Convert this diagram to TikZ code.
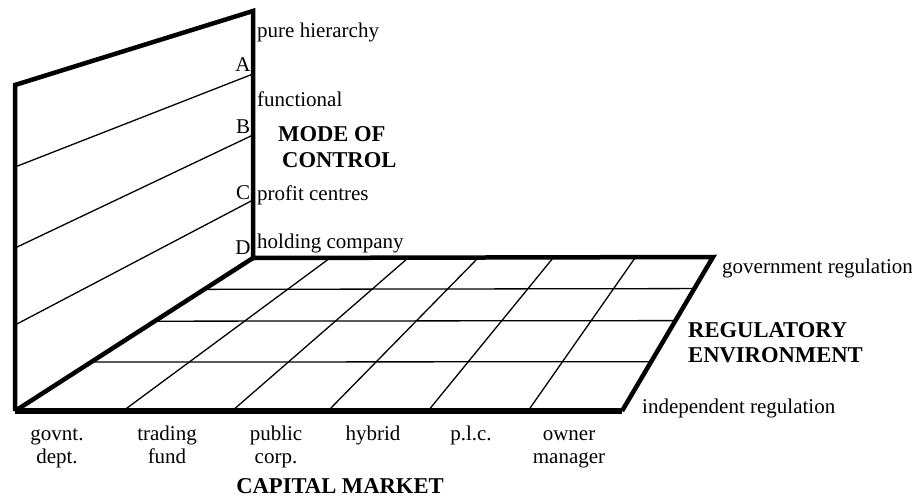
\documentclass[tikz,border=0pt]{standalone}
\usepackage{fontspec}
\setmainfont{Liberation Serif}
\usetikzlibrary{calc}
\begin{document}
\begin{tikzpicture}[x=1pt,y=-1pt,
  edge/.style={line width=4.5pt, line join=miter, line cap=butt},
  frontedge/.style={line width=6.5pt, line cap=butt},
  rule/.style={line width=1.3pt},
  lbl/.style={inner sep=0pt, font=\fontsize{21}{23}\selectfont},
  head/.style={inner sep=0pt, font=\fontsize{22.6}{25}\selectfont\bfseries}]
\useasboundingbox (0,0) rectangle (912,498);

% --- corners of the wall and the floor ---
\coordinate (wallTL) at (15,85);
\coordinate (wallTR) at (253,11);
\coordinate (corner) at (253,258);
\coordinate (floorFL) at (15,411);
\coordinate (floorBR) at (713,257);
\coordinate (floorFR) at (622,411);

% --- rules across the wall (mode of control bands) ---
\coordinate (wA) at (253,74);   \coordinate (lA) at (15,167);
\coordinate (wB) at (253,135);  \coordinate (lB) at (15,248);
\coordinate (wC) at (253,200);  \coordinate (lC) at (15,325);
\draw[rule] (wA) -- (lA);
\draw[rule] (wB) -- (lB);
\draw[rule] (wC) -- (lC);

% --- floor grid: rows (regulatory environment) ---
\foreach \t [count=\i] in {0.205,0.413,0.68}{
  \coordinate (rowL\i) at ($(corner)!\t!(floorFL)$);
  \coordinate (rowR\i) at ($(floorBR)!\t!(floorFR)$);
  \draw[rule] (rowL\i) -- (rowR\i);
}

% --- floor grid: columns (capital market) ---
\foreach \bx/\fx [count=\i] in {330/123,408/232,478/328,553/428,635/528}{
  \coordinate (colB\i) at (\bx,258);
  \coordinate (colF\i) at (\fx,411);
  \draw[rule] (colB\i) -- (colF\i);
}

% --- heavy outlines ---
\draw[edge] (floorFL) -- (wallTL) -- (wallTR) -- (corner) -- (floorBR) -- (floorFR);
\draw[edge] (floorFL) -- (corner);
\draw[frontedge] (floorFL) -- (floorFR);

% --- band letters on the wall ---
\node[lbl, anchor=base] (bandA) at (243,71) {A};
\node[lbl, anchor=base] (bandB) at (243,133) {B};
\node[lbl, anchor=base] (bandC) at (243,199) {C};
\node[lbl, anchor=base] (bandD) at (243,254) {D};

% --- mode of control ---
\node[lbl, anchor=base west] (pure) at (257,37) {pure hierarchy};
\node[lbl, anchor=base west] (functional) at (257,106) {functional};
\node[lbl, anchor=base west] (profit) at (257,200) {profit centres};
\node[lbl, anchor=base west] (holding) at (257,248) {holding company};
\node[head, anchor=base west] (mode) at (278,141) {MODE OF};
\node[head, anchor=base west] (control) at (282,167) {CONTROL};

% --- regulatory environment ---
\node[lbl, anchor=base west] (govreg) at (722,273) {government regulation};
\node[head, anchor=base west] (regul) at (688,337) {REGULATORY};
\node[head, anchor=base west] (envir) at (688,362) {ENVIRONMENT};
\node[lbl, anchor=base west] (indreg) at (642,413) {independent regulation};

% --- capital market ---
\node[lbl, anchor=base] (govnt) at (57,440) {govnt.};
\node[lbl, anchor=base] (dept) at (57,463) {dept.};
\node[lbl, anchor=base] (trading) at (167,440) {trading};
\node[lbl, anchor=base] (fund) at (167,463) {fund};
\node[lbl, anchor=base] (public) at (276,440) {public};
\node[lbl, anchor=base] (corp) at (276,463) {corp.};
\node[lbl, anchor=base] (hybrid) at (373,440) {hybrid};
\node[lbl, anchor=base] (plc) at (471,440) {p.l.c.};
\node[lbl, anchor=base] (owner) at (569,440) {owner};
\node[lbl, anchor=base] (manager) at (569,463) {manager};
\node[head, anchor=base] (capital) at (340,493) {CAPITAL MARKET};
\end{tikzpicture}
\end{document}
